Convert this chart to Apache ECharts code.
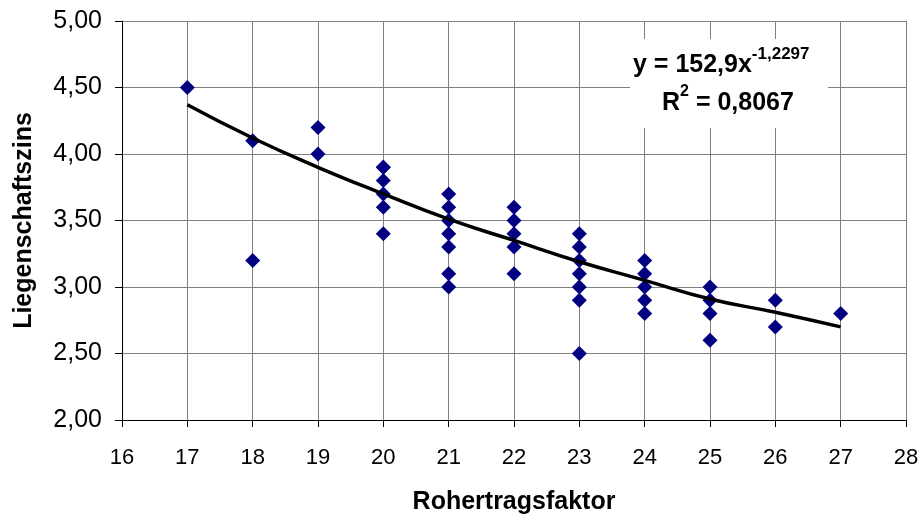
<!DOCTYPE html>
<html><head><meta charset="utf-8">
<script src="https://cdn.jsdelivr.net/npm/echarts@6/dist/echarts.min.js"></script>
<style>html,body{margin:0;padding:0;background:#fff}#c{width:924px;height:521px}</style>
</head><body><div id="c"></div>
<script>
// Scatter observations: [Rohertragsfaktor, Liegenschaftszins]
var pointsX = [17, 18, 18, 19, 19,
  20, 20, 20, 20, 20, 20,
  21, 21, 21, 21, 21, 21, 21,
  22, 22, 22, 22, 22,
  23, 23, 23, 23, 23, 23, 23,
  24, 24, 24, 24, 24,
  25, 25, 25, 25,
  26, 26,
  27];
var pointsY = [4.5, 4.1, 3.2, 4.2, 4.0,
  3.9, 3.9, 3.8, 3.7, 3.6, 3.4,
  3.7, 3.6, 3.5, 3.4, 3.3, 3.1, 3.0,
  3.6, 3.5, 3.4, 3.3, 3.1,
  3.4, 3.3, 3.2, 3.1, 3.0, 2.9, 2.5,
  3.2, 3.1, 3.0, 2.9, 2.8,
  3.0, 2.9, 2.8, 2.6,
  2.9, 2.7,
  2.8];
// Trend line values
var trendX = [17, 18, 19, 20, 21, 22, 23, 24, 25, 26, 27];
var trendY = [4.37, 4.12, 3.90, 3.70, 3.51, 3.35, 3.19, 3.05, 2.91, 2.81, 2.70];
var equationCoef = '152,9';
var equationExp = '-1,2297';
var rSquared = '0,8067';
var xAxisName = 'Rohertragsfaktor';
var yAxisName = 'Liegenschaftszins';

var scatterData = pointsX.map(function (x, i) { return [x, pointsY[i]]; });
var trendData = trendX.map(function (x, i) { return [x, trendY[i]]; });

var FONT = '"Liberation Sans", Arial, sans-serif';

var chart = echarts.init(document.getElementById('c'), null, {renderer: 'canvas'});
chart.setOption({
  animation: false,
  backgroundColor: '#fff',
  grid: {left: 122, right: 18, top: 21, bottom: 101, show: false},
  xAxis: {
    type: 'value', min: 16, max: 28, interval: 1,
    name: xAxisName, nameLocation: 'middle', nameGap: 70,
    nameTextStyle: {fontFamily: FONT, fontSize: 25, fontWeight: 'bold', color: '#000'},
    axisLine: {show: true, onZero: false, lineStyle: {color: '#000', width: 1}},
    axisTick: {show: true, length: 7, lineStyle: {color: '#000'}},
    axisLabel: {fontFamily: FONT, fontSize: 22, color: '#000', margin: 27},
    splitLine: {show: true, lineStyle: {color: '#808080', width: 1}}
  },
  yAxis: {
    type: 'value', min: 2, max: 5, interval: 0.5,
    name: yAxisName, nameLocation: 'middle', nameGap: 85, nameRotate: 90,
    nameTextStyle: {fontFamily: FONT, fontSize: 25, fontWeight: 'bold', color: '#000'},
    axisLine: {show: true, lineStyle: {color: '#000', width: 1}},
    axisTick: {show: true, length: 7, lineStyle: {color: '#000'}},
    axisLabel: {fontFamily: FONT, fontSize: 25, color: '#000', margin: 20,
      formatter: function (v) { return v.toFixed(2).replace('.', ','); }},
    splitLine: {show: true, lineStyle: {color: '#808080', width: 1}}
  },
  series: [
    {
      type: 'scatter', data: scatterData, symbol: 'diamond', symbolSize: [15, 15],
      itemStyle: {color: '#000080', opacity: 1}, z: 3
    },
    {
      type: 'line', data: trendData, smooth: true, showSymbol: false, symbol: 'none',
      lineStyle: {color: '#000', width: 3.5}, z: 4
    }
  ],
  graphic: [
    {type: 'rect', left: 630, top: 39, shape: {width: 198, height: 89},
      style: {fill: '#fff'}, z: 100},
    {type: 'text', left: 633, top: 46, z: 101,
      style: {
        text: '{b|y = ' + equationCoef + 'x}{s|' + equationExp + '}',
        rich: {
          b: {fontFamily: FONT, fontSize: 25, fontWeight: 'bold', fill: '#000', verticalAlign: 'bottom', lineHeight: 32},
          s: {fontFamily: FONT, fontSize: 17, fontWeight: 'bold', fill: '#000', verticalAlign: 'top', padding: [0, 0, 14, 0], lineHeight: 32}
        }
      }},
    {type: 'text', left: 662, top: 84, z: 101,
      style: {
        text: '{b|R}{s|2}{b| = ' + rSquared + '}',
        rich: {
          b: {fontFamily: FONT, fontSize: 25, fontWeight: 'bold', fill: '#000', verticalAlign: 'bottom', lineHeight: 32},
          s: {fontFamily: FONT, fontSize: 16, fontWeight: 'bold', fill: '#000', verticalAlign: 'top', padding: [0, 0, 14, 0], lineHeight: 32}
        }
      }}
  ]
});
</script></body></html>
